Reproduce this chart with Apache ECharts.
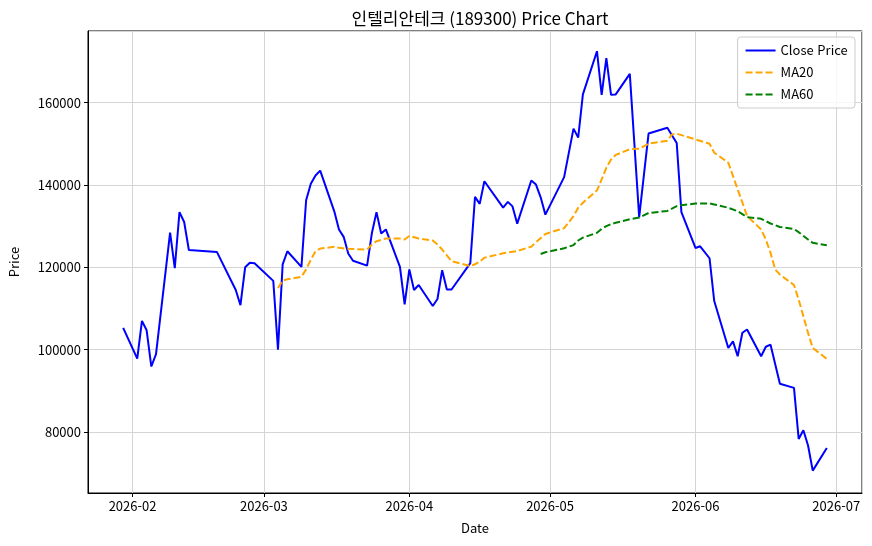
<!DOCTYPE html>
<html lang="ko">
<head>
<meta charset="UTF-8">
<title>인텔리안테크 (189300) Price Chart</title>
<style>
  body { margin: 0; background: #fff; }
  #main { width: 872px; height: 546px; }
</style>
</head>
<body>
<div id="main"></div>
<script src="https://cdn.jsdelivr.net/npm/echarts@6/dist/echarts.min.js"></script>
<script>
  // 종가 (거래일)
  const closeDates = [
    '2026-01-30', '2026-02-02', '2026-02-03', '2026-02-04', '2026-02-05', '2026-02-06',
    '2026-02-09', '2026-02-10', '2026-02-11', '2026-02-12', '2026-02-13', '2026-02-19',
    '2026-02-23', '2026-02-24', '2026-02-25', '2026-02-26', '2026-02-27', '2026-03-03',
    '2026-03-04', '2026-03-05', '2026-03-06', '2026-03-09', '2026-03-10', '2026-03-11',
    '2026-03-12', '2026-03-13', '2026-03-16', '2026-03-17', '2026-03-18', '2026-03-19',
    '2026-03-20', '2026-03-23', '2026-03-24', '2026-03-25', '2026-03-26', '2026-03-27',
    '2026-03-30', '2026-03-31', '2026-04-01', '2026-04-02', '2026-04-03', '2026-04-06',
    '2026-04-07', '2026-04-08', '2026-04-09', '2026-04-10', '2026-04-14', '2026-04-15',
    '2026-04-16', '2026-04-17', '2026-04-21', '2026-04-22', '2026-04-23', '2026-04-24',
    '2026-04-27', '2026-04-28', '2026-04-29', '2026-04-30', '2026-05-04', '2026-05-06',
    '2026-05-07', '2026-05-08', '2026-05-11', '2026-05-12', '2026-05-13', '2026-05-14',
    '2026-05-15', '2026-05-18', '2026-05-20', '2026-05-22', '2026-05-26', '2026-05-28',
    '2026-05-29', '2026-06-01', '2026-06-02', '2026-06-04', '2026-06-05', '2026-06-08',
    '2026-06-09', '2026-06-10', '2026-06-11', '2026-06-12', '2026-06-15', '2026-06-16',
    '2026-06-17', '2026-06-19', '2026-06-22', '2026-06-23', '2026-06-24', '2026-06-25',
    '2026-06-26', '2026-06-29'
  ];
  const closeValues = [
    105300, 97800, 107000, 104700, 95900, 98900,
    128400, 119800, 133400, 131000, 124200, 123700,
    114500, 110800, 120000, 121100, 121000, 116700,
    100000, 120700, 123900, 120100, 136300, 140300,
    142300, 143500, 133600, 129200, 127400, 123300,
    121600, 120400, 128200, 133400, 128200, 129200,
    120100, 111000, 119500, 114500, 115700, 110600,
    112300, 119300, 114600, 114600, 121000, 137100,
    135400, 140900, 134500, 135900, 134800, 130600,
    141100, 140100, 137000, 132800, 141900, 153700,
    151500, 162000, 172500, 161900, 170800, 161900,
    162000, 167000, 132200, 152500, 153900, 150200,
    133400, 124700, 125100, 122200, 111800, 100400,
    102000, 98400, 104100, 104900, 98400, 100700,
    101200, 91700, 90700, 78300, 80400, 76700,
    70600, 76100
  ];

  // 20일 이동평균
  const ma20Dates = [
    '2026-03-04', '2026-03-05', '2026-03-06', '2026-03-09', '2026-03-10', '2026-03-11',
    '2026-03-12', '2026-03-13', '2026-03-16', '2026-03-17', '2026-03-19', '2026-03-23',
    '2026-03-24', '2026-03-25', '2026-03-27', '2026-03-30', '2026-03-31', '2026-04-01',
    '2026-04-03', '2026-04-06', '2026-04-07', '2026-04-08', '2026-04-10', '2026-04-14',
    '2026-04-15', '2026-04-16', '2026-04-17', '2026-04-21', '2026-04-24', '2026-04-27',
    '2026-04-28', '2026-04-30', '2026-05-04', '2026-05-06', '2026-05-07', '2026-05-08',
    '2026-05-11', '2026-05-12', '2026-05-13', '2026-05-14', '2026-05-15', '2026-05-18',
    '2026-05-20', '2026-05-22', '2026-05-26', '2026-05-27', '2026-05-28', '2026-05-29',
    '2026-06-01', '2026-06-04', '2026-06-05', '2026-06-08', '2026-06-10', '2026-06-12',
    '2026-06-15', '2026-06-16', '2026-06-17', '2026-06-18', '2026-06-19', '2026-06-22',
    '2026-06-23', '2026-06-24', '2026-06-25', '2026-06-26', '2026-06-29'
  ];
  const ma20Values = [
    114960, 116800, 117100, 117700, 119500, 121850,
    123900, 124560, 124970, 124740, 124490, 124320,
    125540, 126340, 127000, 127000, 126760, 127600,
    127000, 126500, 125540, 124320, 121500, 120300,
    120730, 121400, 122340, 123410, 123970, 125020,
    126090, 128110, 129500, 132420, 134460, 135680,
    138700, 141350, 144190, 146210, 147300, 148700,
    148810, 150030, 150750, 152290, 152460, 152120,
    151070, 150000, 147840, 145410, 138920, 132500,
    129180, 126760, 123520, 119460, 118240, 115700,
    112160, 108110, 104060, 100410, 97740
  ];

  // 60일 이동평균
  const ma60Dates = [
    '2026-04-29', '2026-04-30', '2026-05-04', '2026-05-06', '2026-05-07', '2026-05-08',
    '2026-05-11', '2026-05-12', '2026-05-13', '2026-05-14', '2026-05-15', '2026-05-18',
    '2026-05-20', '2026-05-22', '2026-05-26', '2026-05-28', '2026-05-29', '2026-06-01',
    '2026-06-04', '2026-06-05', '2026-06-08', '2026-06-10', '2026-06-12', '2026-06-15',
    '2026-06-17', '2026-06-19', '2026-06-22', '2026-06-23', '2026-06-25', '2026-06-26',
    '2026-06-29'
  ];
  const ma60Values = [
    123240, 123650, 124620, 125400, 126510, 127200,
    128380, 129350, 129990, 130500, 130820, 131700,
    132100, 133200, 133700, 134850, 135050, 135510,
    135510, 135270, 134460, 133640, 132200, 131790,
    130640, 129800, 129300, 128530, 126760, 125950,
    125350
  ];

  const font = "'Noto Sans CJK KR', 'Noto Sans', sans-serif";

  function pairs(dates, values) {
    return dates.map((d, i) => [d, values[i]]);
  }

  function pad(n) {
    return n < 10 ? '0' + n : '' + n;
  }

  const chart = echarts.init(document.getElementById('main'));

  const option = {
    animation: false,
    backgroundColor: '#fff',
    textStyle: { fontFamily: font },
    title: {
      text: '인텔리안테크 (189300) Price Chart',
      left: 475,
      textAlign: 'center',
      top: 5,
      textStyle: { fontFamily: font, fontSize: 17, fontWeight: 'normal', color: '#000' }
    },
    legend: {
      orient: 'vertical',
      right: 17,
      top: 37,
      itemWidth: 30,
      itemHeight: 12,
      itemGap: 9,
      itemStyle: { opacity: 0 },
      padding: [7, 8, 7, 7],
      backgroundColor: 'rgba(255,255,255,0.8)',
      borderColor: '#cccccc',
      borderWidth: 1,
      borderRadius: 3,
      textStyle: { fontFamily: font, fontSize: 13, color: '#000' },
      data: ['Close Price', 'MA20', 'MA60']
    },
    grid: {
      left: 88,
      right: 10,
      top: 31,
      bottom: 53,
      show: true,
      borderColor: '#000',
      borderWidth: 1
    },
    xAxis: {
      type: 'time',
      min: new Date(2026, 0, 22, 12).getTime(),
      max: new Date(2026, 6, 6, 12).getTime(),
      splitNumber: 6,
      minInterval: 28 * 86400000,
      name: 'Date',
      nameLocation: 'middle',
      nameGap: 29,
      nameTextStyle: { fontFamily: font, fontSize: 13, color: '#000' },
      axisLine: { lineStyle: { color: '#000', width: 1 } },
      axisTick: { show: true, length: 4, lineStyle: { color: '#000' } },
      axisLabel: {
        color: '#000',
        fontSize: 13,
        fontFamily: font,
        margin: 7,
        hideOverlap: false,
        formatter: function (value) {
          const d = new Date(value);
          return d.getFullYear() + '-' + pad(d.getMonth() + 1);
        }
      },
      splitLine: { show: true, lineStyle: { color: '#d5d5d5', width: 1 } }
    },
    yAxis: {
      type: 'value',
      min: 65170,
      max: 177410,
      splitNumber: 5,
      name: 'Price',
      nameLocation: 'middle',
      nameGap: 67,
      nameTextStyle: { fontFamily: font, fontSize: 13, color: '#000' },
      axisLine: { show: true, lineStyle: { color: '#000', width: 1 } },
      axisTick: { show: true, length: 4, lineStyle: { color: '#000' } },
      axisLabel: {
        color: '#000',
        fontSize: 13,
        fontFamily: font,
        margin: 7,
        showMinLabel: false,
        showMaxLabel: false,
        formatter: function (v) { return String(v); }
      },
      splitLine: { show: true, lineStyle: { color: '#d5d5d5', width: 1 } }
    },
    series: [
      {
        name: 'Close Price',
        type: 'line',
        data: pairs(closeDates, closeValues),
        symbol: 'none',
        lineStyle: { color: '#0000ff', width: 2 },
        itemStyle: { color: '#0000ff' },
        z: 3
      },
      {
        name: 'MA20',
        type: 'line',
        data: pairs(ma20Dates, ma20Values),
        symbol: 'none',
        lineStyle: { color: '#ffa500', width: 2, type: [7, 3] },
        itemStyle: { color: '#ffa500' },
        z: 4
      },
      {
        name: 'MA60',
        type: 'line',
        data: pairs(ma60Dates, ma60Values),
        symbol: 'none',
        lineStyle: { color: '#008000', width: 2, type: [7, 3] },
        itemStyle: { color: '#008000' },
        z: 5
      }
    ]
  };

  chart.setOption(option);
</script>
</body>
</html>
